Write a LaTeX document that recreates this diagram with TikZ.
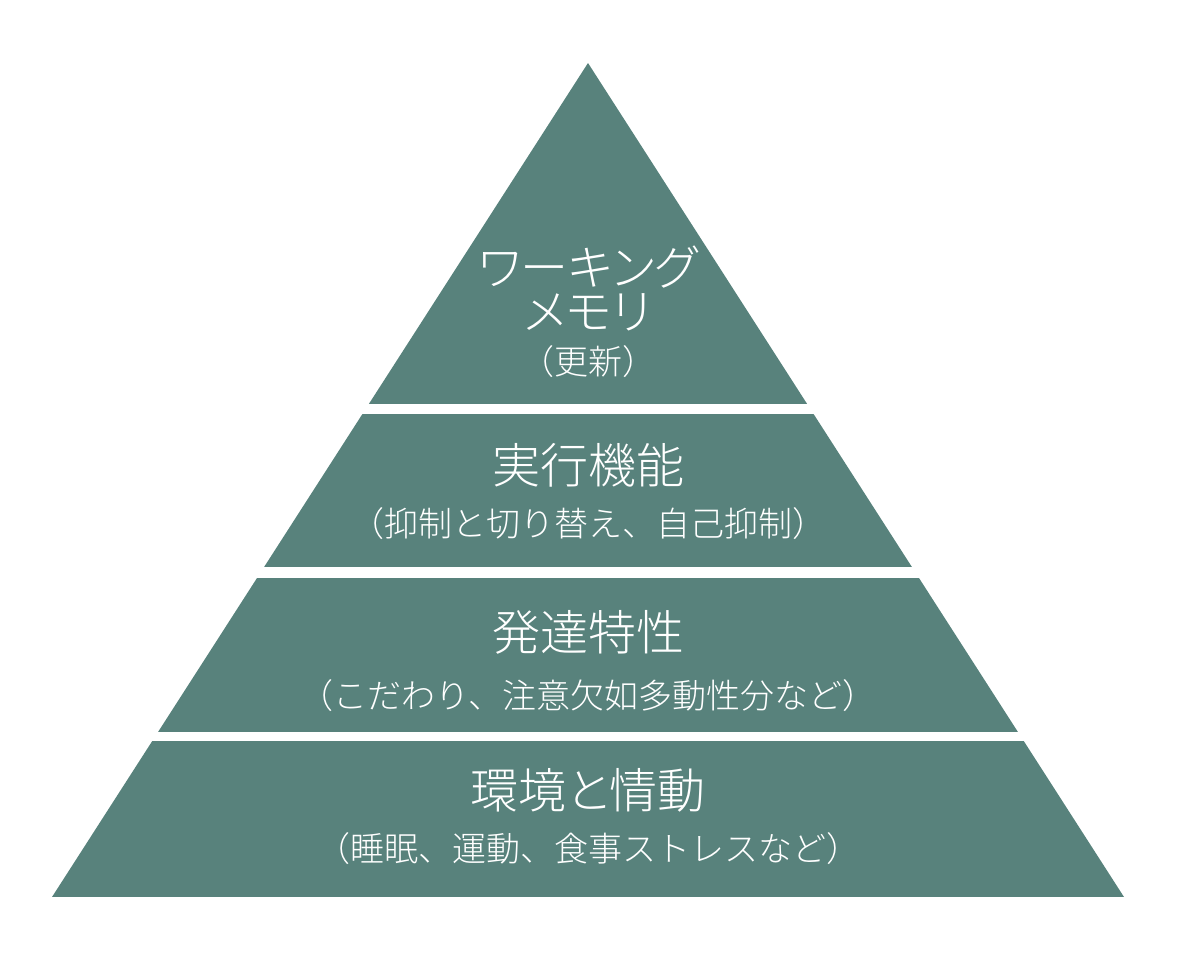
\documentclass[tikz,border=0pt]{standalone}
\usepackage{fontspec}
\IfFontExistsTF{Noto Sans CJK JP Light}{%
  \setmainfont{Noto Sans CJK JP Light}
  \newfontfamily\palfont{Noto Sans CJK JP Light}[RawFeature=+palt]}{%
  \setmainfont{Noto Sans CJK JP}
  \newfontfamily\palfont{Noto Sans CJK JP}[RawFeature=+palt]}
\definecolor{pyr}{RGB}{88,130,124}
\begin{document}
\begin{tikzpicture}[x=0.5pt,y=-0.5pt,
  ttl/.style={text=white,inner sep=0pt,font=\palfont\fontsize{24pt}{28pt}\selectfont},
  sub/.style={text=white,inner sep=0pt,font=\fontsize{17pt}{20pt}\selectfont}]
\useasboundingbox (0,0) rectangle (1200,960);
\begin{scope}
  \clip (588,63) -- (1124,897) -- (52,897) -- cycle;
  \fill[pyr] (0,63) rectangle (1200,404);
  \fill[pyr] (0,414) rectangle (1200,567);
  \fill[pyr] (0,578) rectangle (1200,732);
  \fill[pyr] (0,741) rectangle (1200,897);
\end{scope}
\node[ttl] (n1a) at (588,267) {ワーキング};
\node[ttl] (n1b) at (588,312) {メモリ};
\node[sub] (n1c) at (588,362) {（更新）};
\node[ttl] (n2a) at (588,465) {実行機能};
\node[sub] (n2b) at (588,524) {（抑制と切り替え、自己抑制）};
\node[ttl] (n3a) at (588,632) {発達特性};
\node[sub] (n3b) at (588,696) {（こだわり、注意欠如多動性分など）};
\node[ttl] (n4a) at (588,790) {環境と情動};
\node[sub] (n4b) at (588,849) {（睡眠、運動、食事ストレスなど）};
\end{tikzpicture}
\end{document}
